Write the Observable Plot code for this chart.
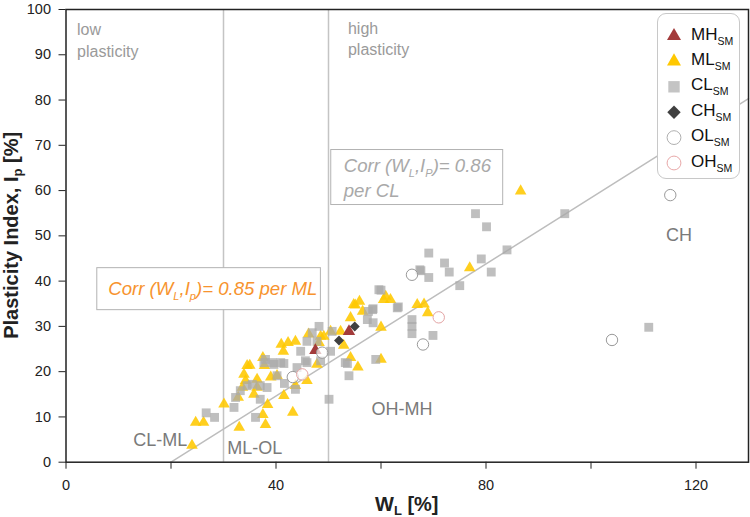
<!DOCTYPE html>
<html><head><meta charset="utf-8">
<script src="https://cdn.jsdelivr.net/npm/d3@7"></script>
<script src="https://cdn.jsdelivr.net/npm/@observablehq/plot@0.6"></script>
<style>
body{margin:0;background:#fff;font-family:"Liberation Sans",Arial,sans-serif;}
#wrap{position:relative;width:750px;height:517px;overflow:hidden}
#legend{position:absolute;left:657px;top:13px;width:83px;height:166px;border:1px solid #c8c8c8;border-radius:9px;background:#fff;box-sizing:border-box}
</style></head><body><div id="wrap"></div>
<script>
// ---- data ----
const mlWL = [24.0,24.7,26.2,30.1,33.0,38.0,38.4,37.5,32.8,35.8,36.4,33.6,33.9,34.5,37.5,37.8,39.0,41.0,41.4,43.7,45.9,41.5,43.2,43.7,48.5,50.4,52.3,54.2,54.8,54.2,55.6,34.2,36.4,47.8,55.9,55.1,56.5,46.2,49.1,60.9,61.8,60.5,66.9,68.2,68.9,60.0,60.0,76.9,86.6,40.2,35.0,48.2,42.3,52.9];
const mlIp = [3.7,8.8,8.8,12.8,7.7,8.3,12.7,10.5,14.3,15.0,16.5,16.5,19.4,21.3,23.1,21.3,18.8,26.0,24.5,26.7,18.0,14.7,11.0,16.9,27.8,28.9,28.9,31.9,34.8,23.1,21.0,18.0,18.3,21.6,35.5,34.7,33.3,28.3,27.8,36.6,35.9,35.9,34.8,34.9,33.0,29.8,22.7,42.9,59.9,19.1,21.4,26.4,26.4,25.8];
const clWL = [26.7,28.3,32.0,32.3,33.2,34.5,35.5,37.0,37.0,36.1,38.0,39.3,40.9,40.2,41.6,43.7,44.0,44.7,45.6,45.9,46.9,48.2,50.1,50.4,53.2,53.9,48.5,47.8,57.6,58.4,57.4,59.6,50.7,59.0,78.0,80.1,69.1,72.1,73.0,67.4,67.6,69.1,79.1,84.0,81.0,75.0,60.0,63.1,63.3,58.5,65.9,65.9,65.9,69.9,58.5,95.0,111.0,41.5,45.9,53.6,37.7,39.6,38.3];
const clIp = [10.9,9.9,12.1,14.3,15.8,16.9,17.2,16.9,13.9,9.9,22.7,22.0,22.0,19.1,17.4,16.1,20.9,24.5,22.4,26.7,28.6,30.0,13.9,24.5,22.0,19.1,22.4,26.7,33.3,33.7,31.5,38.1,28.9,22.7,54.9,52.0,46.2,44.0,42.0,42.5,42.3,40.8,44.9,46.9,42.0,39.0,38.0,34.1,34.3,33.9,31.5,30.0,28.4,28.0,30.8,54.9,29.8,21.8,22.0,21.8,22.0,21.6,16.5];
const mhWL = [47.5,53.9], mhIp = [24.7,28.9];
const chWL = [52.0,55.0], chIp = [26.9,30.0];
const olWL = [43.2,48.8,65.9,68.0,104.0,115.1], olIp = [18.8,24.2,41.4,26.0,27.0,59.0];
const ohWL = [45.0,71.0], ohIp = [19.4,32.0];
const boundaryWL = [30, 50];
const aLineWL = [20, 130], aLineIp = [0, 80.3];
const xTicks = [0,20,40,60,80,100,120];
const xTickLabels = [0,40,80,120];
const yTicks = [0,10,20,30,40,50,60,70,80,90,100];
const legendCodes = ["MH","ML","CL","CH","OL","OH"];

const rows = (xs, ys) => xs.map((x,i) => ({WL:x, Ip:ys[i]}));
const ml = rows(mlWL, mlIp), cl = rows(clWL, clIp), mh = rows(mhWL, mhIp),
      ch = rows(chWL, chIp), ol = rows(olWL, olIp), oh = rows(ohWL, ohIp),
      aLine = rows(aLineWL, aLineIp);

const FONT = '"Liberation Sans", Arial, sans-serif';
const zoneLabels = [
  {WL:12.8, Ip:4.9, t:"CL-ML"},
  {WL:30.7, Ip:3.0, t:"ML-OL"},
  {WL:58.2, Ip:11.8, t:"OH-MH"},
  {WL:114.3, Ip:50.2, t:"CH"}
];
const plastLabels = [
  {WL:2.1, Ip:97.8, t:"low\nplasticity"},
  {WL:53.7, Ip:98.1, t:"high\nplasticity"}
];

const plot = Plot.plot({
  width: 750, height: 517,
  marginLeft: 65.5, marginRight: 2, marginTop: 9, marginBottom: 55.3,
  style: {fontFamily: FONT, fontSize: "14.5px", color: "#222", background: "#fff", overflow: "visible"},
  x: {domain: [0,130], ticks: xTicks, tickFormat: d => xTickLabels.includes(d) ? String(d) : "", tickSize: 7, tickPadding: 11, label: null},
  y: {domain: [0,100], ticks: yTicks, tickSize: 7, tickPadding: 8, label: null},
  marks: [
    Plot.ruleX(boundaryWL, {stroke: "#c4c4c4", strokeWidth: 1.5}),
    Plot.line(aLine, {x: "WL", y: "Ip", stroke: "#bdbdbd", strokeWidth: 1.5}),
    Plot.dot(ml, {x: "WL", y: "Ip", symbol: "triangle", r: 4.3, fill: "#ffc800", fillOpacity: 0.88}),
    Plot.dot(cl, {x: "WL", y: "Ip", symbol: "square", r: 5, fill: "#a9a9a9", fillOpacity: 0.75}),
    Plot.dot(ch, {x: "WL", y: "Ip", symbol: "square", rotate: 45, r: 4, fill: "#404040"}),
    Plot.dot(mh, {x: "WL", y: "Ip", symbol: "triangle", r: 4.6, fill: "#a33b3b"}),
    Plot.dot(ol, {x: "WL", y: "Ip", symbol: "circle", r: 5.7, fill: "white", fillOpacity: 0.7, stroke: "#9a9a9a", strokeWidth: 1}),
    Plot.dot(oh, {x: "WL", y: "Ip", symbol: "circle", r: 5.7, fill: "white", fillOpacity: 0.7, stroke: "#e3a3a3", strokeWidth: 1}),
    Plot.text(zoneLabels, {x: "WL", y: "Ip", text: "t", textAnchor: "start", fontSize: 18, fill: "#7a7a7a"}),
    Plot.text(plastLabels, {x: "WL", y: "Ip", text: "t", textAnchor: "start", lineAnchor: "top", lineHeight: 1.36, fontSize: 16, fill: "#9a9a9a"}),
    Plot.frame({stroke: "#222", strokeWidth: 1.5})
  ]
});

const wrap = document.getElementById("wrap");
wrap.appendChild(plot);
const svg = d3.select(plot);
const sx = plot.scale("x"), sy = plot.scale("y");
const X = d3.scaleLinear(sx.domain, sx.range), Y = d3.scaleLinear(sy.domain, sy.range);

function addParts(sel, parts, subSize, shift) {
  let prevSub = false;
  parts.forEach(([s, sub]) => {
    const ts = sel.append("tspan").text(s);
    if (sub) ts.attr("font-size", subSize).attr("dy", shift);
    else if (prevSub) ts.attr("dy", -shift);
    prevSub = sub;
  });
}

// axis titles
const xt = svg.append("text").attr("x", (X(0)+X(130))/2).attr("y", 511)
  .attr("text-anchor", "middle").attr("font-weight", "bold").attr("font-size", 20).attr("fill", "#222").attr("font-family", FONT);
addParts(xt, [["W",false],["L",true],[" [%]",false]], 13, 4);
const yt = svg.append("text").attr("transform", `translate(18,${(Y(0)+Y(100))/2}) rotate(-90)`)
  .attr("text-anchor", "middle").attr("font-weight", "bold").attr("font-size", 20).attr("fill", "#222").attr("font-family", FONT);
addParts(yt, [["Plasticity Index, I",false],["p",true],[" [%]",false]], 13, 4);

// correlation boxes
function corrBox(lines, wl, ip, color, pad) {
  const g = svg.append("g");
  const rect = g.append("rect");
  const t = g.append("text").attr("font-family", FONT).attr("font-style", "italic").attr("font-size", 18.6)
    .attr("fill", color).attr("text-anchor", "start");
  lines.forEach((parts, i) => {
    const line = t.append("tspan").attr("x", X(wl)).attr("y", Y(ip) + i*25);
    addParts(line, parts, 11, 5);
  });
  const b = t.node().getBBox();
  rect.attr("x", b.x - pad[0]).attr("y", b.y - pad[1]).attr("width", b.width + pad[0] + pad[2]).attr("height", b.height + pad[1] + pad[3])
    .attr("fill", "#fff").attr("stroke", "#b3b3b3").attr("stroke-width", 1);
}
corrBox([[["Corr (W",false],["L",true],[",I",false],["P",true],[")= 0.86",false]], [["per CL",false]]], 53.0, 64.1, "#a9a9a9", [12, 5, 11, 4]);
corrBox([[["Corr (W",false],["L",true],[",I",false],["p",true],[")= 0.85 per ML",false]]], 8.15, 36.9, "#f7932e", [11.5, 10, 3, 8]);

// legend
const leg = d3.select(wrap).append("div").attr("id", "legend");
const ls = leg.append("svg").attr("width", 81).attr("height", 164).style("display", "block");
const legendStyle = {
  MH: {sym: d3.symbolTriangle, size: 85, fill: "#a33b3b", stroke: "none", rot: 0},
  ML: {sym: d3.symbolTriangle, size: 85, fill: "#ffc800", stroke: "none", rot: 0},
  CL: {sym: d3.symbolSquare, size: 130, fill: "#c4c4c4", stroke: "none", rot: 0},
  CH: {sym: d3.symbolSquare, size: 90, fill: "#404040", stroke: "none", rot: 45},
  OL: {sym: d3.symbolCircle, size: 150, fill: "#fff", stroke: "#b0b0b0", rot: 0},
  OH: {sym: d3.symbolCircle, size: 150, fill: "#fff", stroke: "#e8a8a8", rot: 0}
};
legendCodes.forEach((c, i) => {
  const cy = 22 + i*25.4;
  const st = legendStyle[c];
  ls.append("path").attr("d", d3.symbol(st.sym, st.size)())
    .attr("transform", `translate(16,${cy}) rotate(${st.rot})`)
    .attr("fill", st.fill).attr("stroke", st.stroke).attr("stroke-width", 1);
  const t = ls.append("text").attr("x", 33).attr("y", cy + 3.5).attr("font-family", FONT).attr("font-size", 17).attr("fill", "#111");
  t.append("tspan").text(c);
  t.append("tspan").text("SM").attr("font-size", 10.5).attr("dy", 5);
});
</script></body></html>
